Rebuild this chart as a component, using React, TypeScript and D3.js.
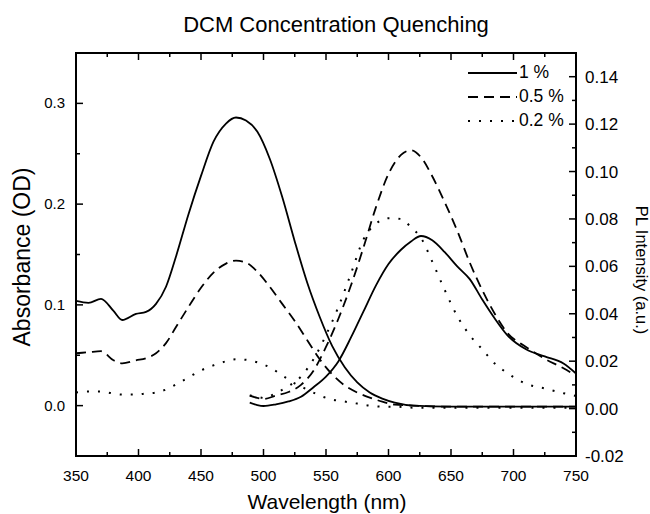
import React, { useEffect, useRef } from 'react';
import * as d3 from 'd3';

// absorbance spectra (left axis, OD)
const absWavelength = [350, 360, 370, 380, 387, 398, 406, 414, 422, 430, 440, 450, 460, 470, 478, 486, 495, 505, 515, 525, 535, 545, 555, 565, 575, 585, 595, 605, 620, 650, 700, 750];
const absSolid = [0.104, 0.102, 0.106, 0.094, 0.085, 0.091, 0.093, 0.101, 0.118, 0.148, 0.19, 0.228, 0.262, 0.28, 0.286, 0.283, 0.272, 0.245, 0.207, 0.163, 0.122, 0.088, 0.059, 0.038, 0.023, 0.013, 0.007, 0.003, 0.0, -0.001, -0.001, -0.001];
const absDashed = [0.052, 0.053, 0.054, 0.045, 0.042, 0.045, 0.047, 0.052, 0.062, 0.078, 0.098, 0.117, 0.132, 0.141, 0.144, 0.142, 0.133, 0.118, 0.101, 0.084, 0.065, 0.046, 0.031, 0.02, 0.013, 0.008, 0.004, 0.001, 0.0, -0.001, -0.001, -0.001];
const absDotted = [0.013, 0.014, 0.014, 0.012, 0.011, 0.011, 0.012, 0.013, 0.016, 0.021, 0.028, 0.035, 0.04, 0.044, 0.046, 0.0455, 0.043, 0.038, 0.03, 0.022, 0.016, 0.01, 0.006, 0.004, 0.002, 0.0, -0.001, -0.001, -0.002, -0.002, -0.002, -0.002];

// photoluminescence spectra (right axis, a.u.)
const plWavelength = [489, 495, 500, 510, 520, 530, 540, 550, 560, 570, 580, 590, 600, 610, 618, 626, 635, 645, 655, 665, 675, 685, 695, 710, 725, 740, 750];
const plSolid = [0.0025, 0.0015, 0.0011, 0.0018, 0.003, 0.005, 0.009, 0.0135, 0.02, 0.03, 0.041, 0.052, 0.061, 0.067, 0.0705, 0.0728, 0.071, 0.066, 0.06, 0.0546, 0.046, 0.038, 0.031, 0.025, 0.022, 0.019, 0.0148];
const plDashed = [0.0055, 0.0045, 0.004, 0.0055, 0.007, 0.01, 0.016, 0.026, 0.038, 0.052, 0.068, 0.085, 0.099, 0.107, 0.109, 0.106, 0.098, 0.087, 0.075, 0.0616, 0.05, 0.04, 0.032, 0.026, 0.021, 0.017, 0.0138];
const plDotted = [0.0055, 0.005, 0.0045, 0.0065, 0.0095, 0.0135, 0.0208, 0.031, 0.043, 0.057, 0.0714, 0.078, 0.0803, 0.08, 0.0765, 0.072, 0.062, 0.05, 0.039, 0.031, 0.025, 0.019, 0.015, 0.0105, 0.0085, 0.0065, 0.0053];

const legendLabels = ['1 %', '0.5 %', '0.2 %'];
const xTicks = [350, 400, 450, 500, 550, 600, 650, 700, 750];
const absTicks = [0.0, 0.1, 0.2, 0.3];
const plTicks = [-0.02, 0.0, 0.02, 0.04, 0.06, 0.08, 0.1, 0.12, 0.14];

const FONT = '"Liberation Sans", Arial, sans-serif';
const dashes = ['none', '10,6', '2,9'];

const App = () => {
  const svgRef = useRef<SVGSVGElement>(null);
  const width = 650;
  const height = 514;

  useEffect(() => {
    const svg = d3.select(svgRef.current);
    svg.selectAll('*').remove();

    const margin = { top: 53, right: 74, bottom: 58, left: 76 };
    const x0 = margin.left;
    const x1 = width - margin.right;
    const y0 = margin.top;
    const y1 = height - margin.bottom;

    const x = d3.scaleLinear().domain([350, 750]).range([x0, x1]);
    const yAbs = d3.scaleLinear().domain([-0.05, 0.35]).range([y1, y0]);
    const yPl = d3.scaleLinear().domain([-0.02, 0.15]).range([y1, y0]);

    svg.append('defs').append('clipPath').attr('id', 'plot-clip')
      .append('rect').attr('x', x0).attr('y', y0).attr('width', x1 - x0).attr('height', y1 - y0);

    // Title
    svg.append('text')
      .attr('x', 336)
      .attr('y', 32)
      .attr('text-anchor', 'middle')
      .style('font-family', FONT)
      .style('font-size', '22px')
      .text('DCM Concentration Quenching');

    const plot = svg.append('g').attr('clip-path', 'url(#plot-clip)');

    const absLine = (vals: number[]) => d3.line<number>()
      .x((_, i) => x(absWavelength[i]))
      .y(d => yAbs(d))
      .curve(d3.curveMonotoneX)(vals);
    const plLine = (vals: number[]) => d3.line<number>()
      .x((_, i) => x(plWavelength[i]))
      .y(d => yPl(d))
      .curve(d3.curveMonotoneX)(vals);

    [absSolid, absDashed, absDotted].forEach((vals, i) => {
      plot.append('path')
        .attr('d', absLine(vals))
        .attr('fill', 'none')
        .attr('stroke', '#000')
        .attr('stroke-width', i === 2 ? 2 : 1.8)
        .attr('stroke-dasharray', dashes[i]);
    });
    [plSolid, plDashed, plDotted].forEach((vals, i) => {
      plot.append('path')
        .attr('d', plLine(vals))
        .attr('fill', 'none')
        .attr('stroke', '#000')
        .attr('stroke-width', i === 2 ? 2 : 1.8)
        .attr('stroke-dasharray', dashes[i]);
    });

    // Frame
    svg.append('rect')
      .attr('x', x0).attr('y', y0)
      .attr('width', x1 - x0).attr('height', y1 - y0)
      .attr('fill', 'none').attr('stroke', '#000').attr('stroke-width', 2);

    const ticks = svg.append('g').attr('stroke', '#000').attr('stroke-width', 1.5);
    const major = 7;
    const minor = 4;

    // X ticks (bottom + top, inward)
    d3.range(350, 751, 25).forEach(v => {
      const len = v % 50 === 0 ? major : minor;
      ticks.append('line').attr('x1', x(v)).attr('x2', x(v)).attr('y1', y1).attr('y2', y1 - len);
      ticks.append('line').attr('x1', x(v)).attr('x2', x(v)).attr('y1', y0).attr('y2', y0 + len);
    });
    // Left ticks
    d3.range(-0.05, 0.351, 0.05).forEach(v => {
      const isMajor = absTicks.some(t => Math.abs(t - v) < 1e-6);
      ticks.append('line').attr('x1', x0).attr('x2', x0 + (isMajor ? major : minor))
        .attr('y1', yAbs(v)).attr('y2', yAbs(v));
    });
    // Right ticks
    d3.range(-0.02, 0.1501, 0.01).forEach(v => {
      const isMajor = plTicks.some(t => Math.abs(t - v) < 1e-6);
      ticks.append('line').attr('x1', x1).attr('x2', x1 - (isMajor ? major : minor))
        .attr('y1', yPl(v)).attr('y2', yPl(v));
    });

    // Tick labels
    xTicks.forEach(v => {
      svg.append('text')
        .attr('x', x(v)).attr('y', 481)
        .attr('text-anchor', 'middle')
        .style('font-family', FONT).style('font-size', '15.5px')
        .text(v);
    });
    absTicks.forEach(v => {
      svg.append('text')
        .attr('x', 65).attr('y', yAbs(v) + 5)
        .attr('text-anchor', 'end')
        .style('font-family', FONT).style('font-size', '15px')
        .text(d3.format('.1f')(v));
    });
    plTicks.forEach(v => {
      svg.append('text')
        .attr('x', 585).attr('y', yPl(v) + 6)
        .attr('text-anchor', 'start')
        .style('font-family', FONT).style('font-size', '17px')
        .text(d3.format('.2f')(v).replace('−', '-'));
    });

    // Axis titles
    svg.append('text')
      .attr('transform', 'translate(22,257) rotate(-90)')
      .attr('text-anchor', 'middle')
      .attr('dominant-baseline', 'central')
      .style('font-family', FONT).style('font-size', '23px')
      .text('Absorbance (OD)');
    svg.append('text')
      .attr('transform', 'translate(642,270) rotate(90)')
      .attr('text-anchor', 'middle')
      .attr('dominant-baseline', 'central')
      .style('font-family', FONT).style('font-size', '16.5px')
      .text('PL Intensity (a.u.)');
    svg.append('text')
      .attr('x', 327).attr('y', 509)
      .attr('text-anchor', 'middle')
      .style('font-family', FONT).style('font-size', '21px')
      .text('Wavelength (nm)');

    // Legend
    const legend = svg.append('g');
    legendLabels.forEach((label, i) => {
      const yPos = 73 + i * 24;
      legend.append('line')
        .attr('x1', 468).attr('x2', 517)
        .attr('y1', yPos).attr('y2', yPos)
        .attr('stroke', '#000').attr('stroke-width', i === 2 ? 2 : 1.8)
        .attr('stroke-dasharray', dashes[i]);
      legend.append('text')
        .attr('x', 519).attr('y', yPos + 5)
        .style('font-family', FONT).style('font-size', '17.5px')
        .text(label);
    });
  }, []);

  return (
    <svg
      ref={svgRef}
      width={width}
      height={height}
      style={{ position: 'absolute', left: 0, top: 0, background: '#fff' }}
    />
  );
};

export default App;
